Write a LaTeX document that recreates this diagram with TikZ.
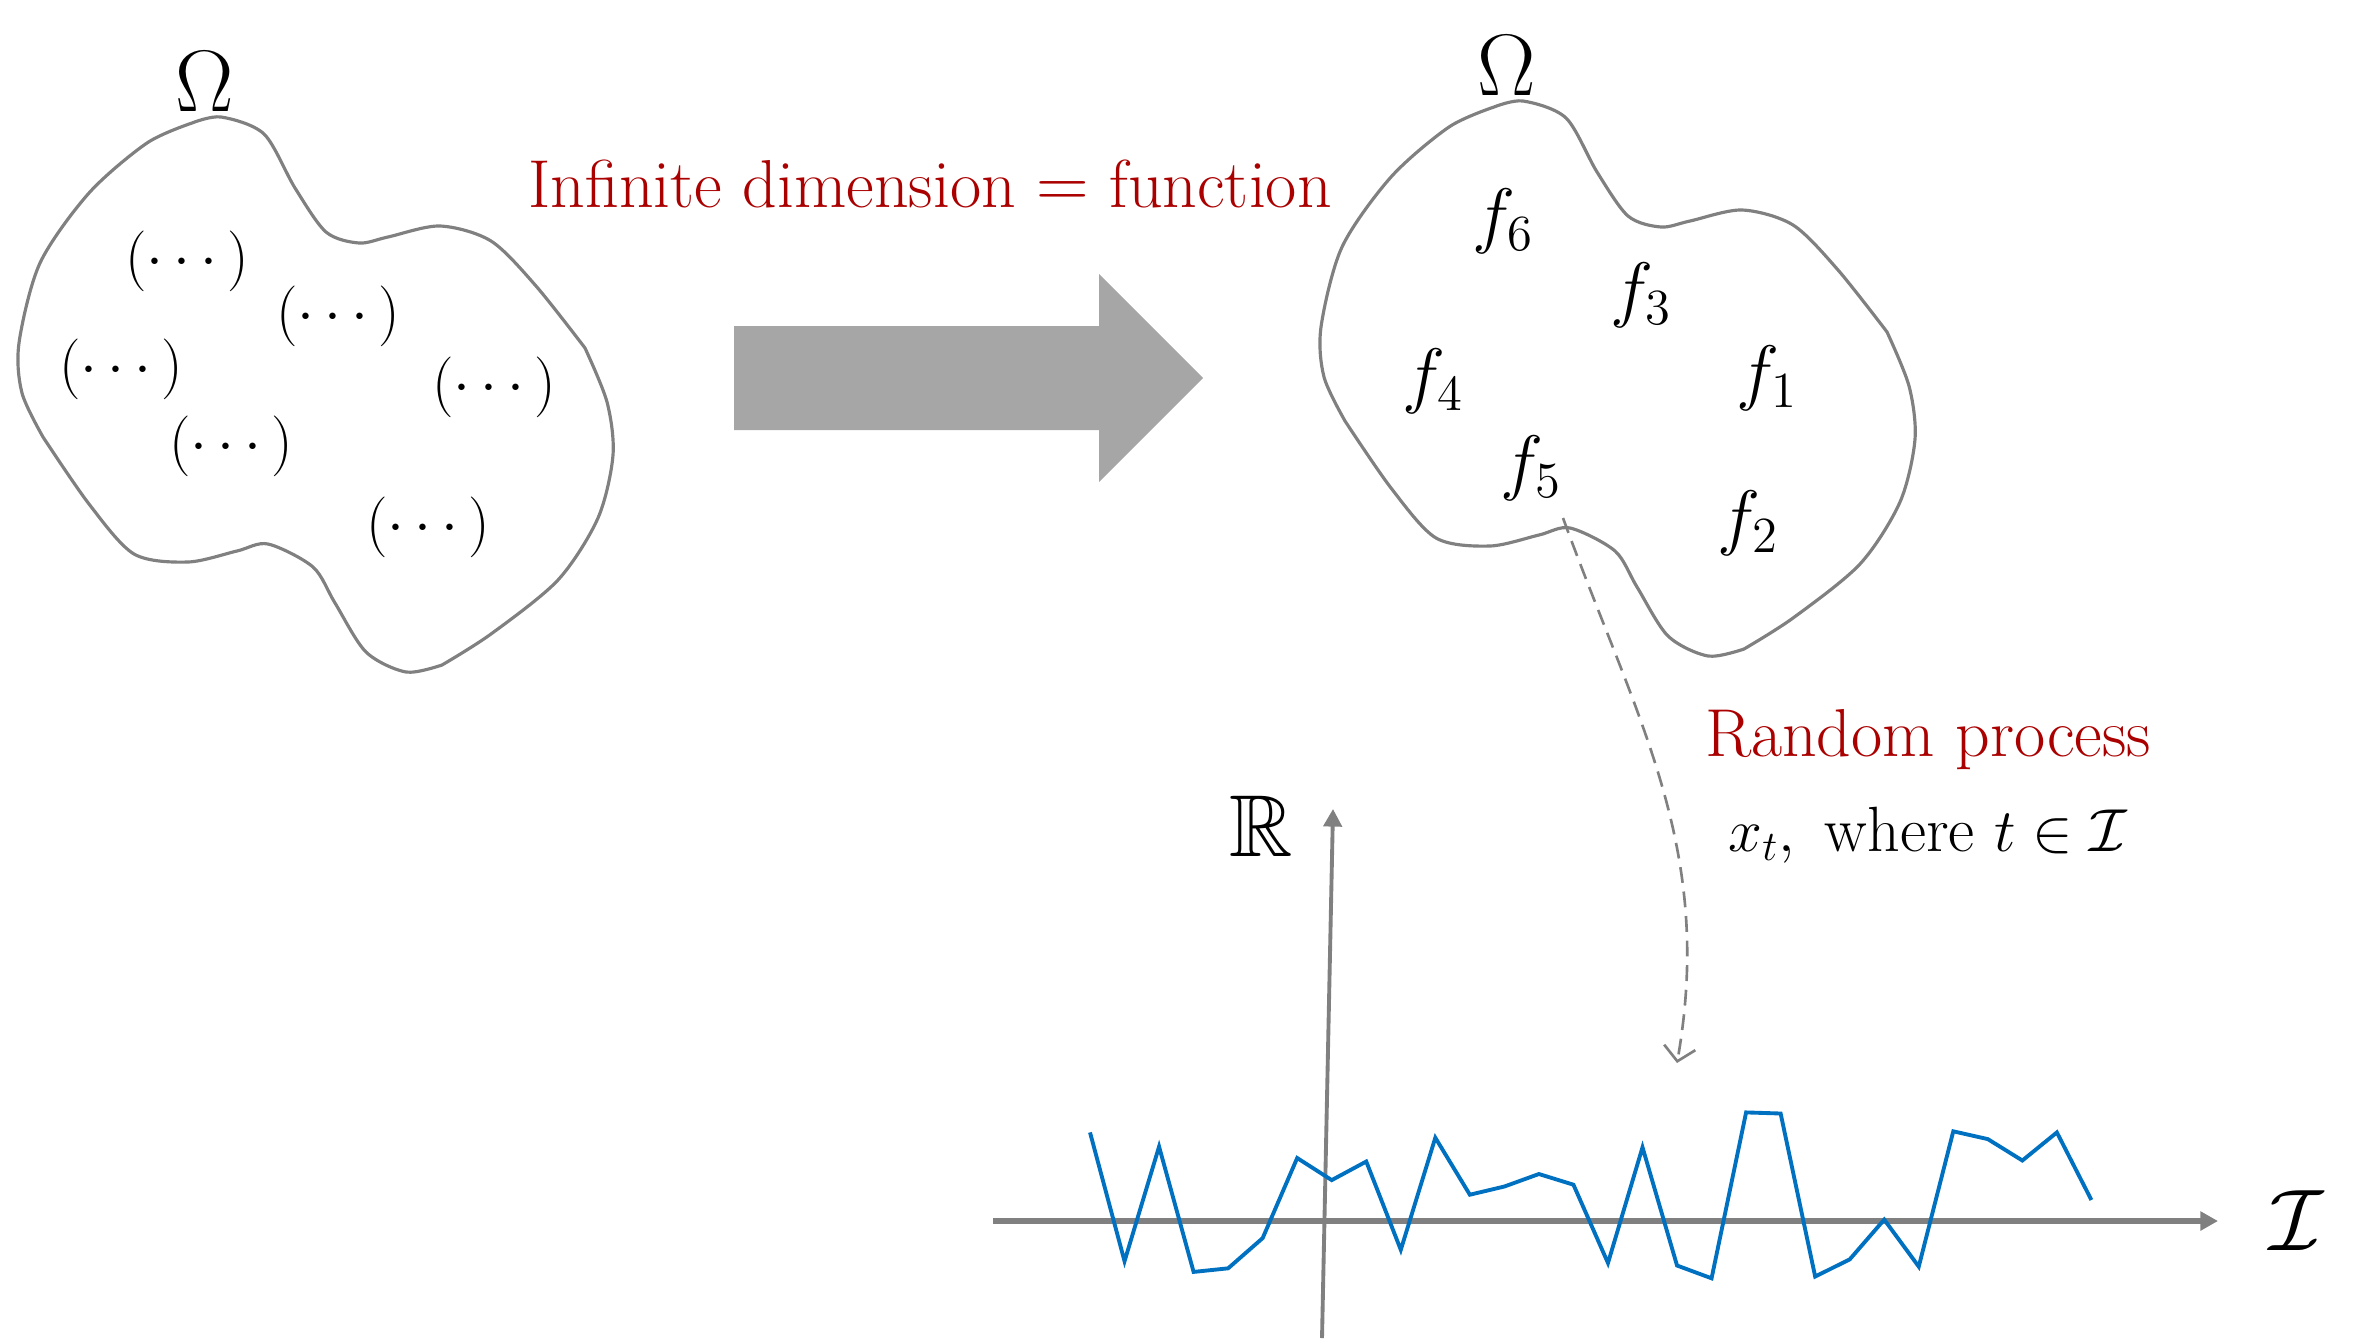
\documentclass[tikz,border=0pt]{standalone}
\usepackage{amsmath,amssymb}
\usepackage{xcolor}
\usepackage{tikz}
\usetikzlibrary{arrows.meta,calc,positioning}
\definecolor{setgray}{RGB}{128,128,128}
\definecolor{bigarrow}{RGB}{166,166,166}
\definecolor{accent}{RGB}{170,0,0}
\definecolor{sample}{RGB}{0,112,192}

\tikzset{
  blob/.pic={
    \draw[setgray,line width=0.9pt]
      plot[smooth] coordinates {(1.92,12.15) (2.21,12.21) (2.64,12.04) (2.95,11.50) (3.26,11.06) (3.59,10.95) (3.88,11.01) (4.40,11.12) (4.91,10.97) (5.36,10.52) (5.85,9.90)}
      -- plot[smooth] coordinates {(5.85,9.90) (6.07,9.36) (6.13,8.83) (5.98,8.20) (5.58,7.58) (4.91,7.04) (4.42,6.73)}
      -- plot[smooth] coordinates {(4.42,6.73) (4.06,6.66) (3.66,6.86) (3.35,7.35) (3.13,7.71) (2.68,7.94) (2.37,7.87) (1.88,7.76) (1.34,7.84) (0.89,8.34) (0.43,9.01)}
      -- plot[smooth] coordinates {(0.43,9.01) (0.22,9.45) (0.19,9.95) (0.40,10.75) (0.89,11.45) (1.47,11.95) (1.92,12.15)} -- cycle;
    \node[font=\fontsize{23}{28}\selectfont] (-omega) at (2.05,12.56) {$\Omega$};
  }
}

\begin{document}
\begin{tikzpicture}[
    txt/.style={font=\fontsize{19.3}{23}\selectfont},
    dots/.style={font=\fontsize{16.4}{20}\selectfont},
    fn/.style={font=\fontsize{19.5}{23}\selectfont},
    axlbl/.style={font=\fontsize{25}{30}\selectfont},
    axis/.style={setgray,-{Triangle[length=5pt,width=5.2pt]}}]
  \useasboundingbox (0,0) rectangle (23.62,13.38);

  % the two sets
  \pic (L) at (0,0) {blob};
  \pic (R) at (13.02,0.16) {blob};
  \foreach \x/\y [count=\i] in {1.87/10.77,3.38/10.22,1.21/9.69,4.94/9.51,2.31/8.92,4.28/8.11}
    \node[dots] (d\i) at (\x,\y) {$(\cdots)$};
  \foreach \k/\x/\y in {1/17.67/9.60,2/17.48/8.15,3/16.41/10.43,4/14.33/9.57,5/15.31/8.70,6/15.03/11.17}
    \node[fn] (f\k) at (\x,\y) {$f_{\k}$};

  % big arrow
  \fill[bigarrow] (7.34,9.08) -- (10.99,9.08) -- (10.99,8.56) -- (12.03,9.60)
    -- (10.99,10.64) -- (10.99,10.12) -- (7.34,10.12) -- cycle;
  \node[txt,accent] (idea) at (9.30,11.54) {Infinite dimension $=$ function};

  % random process
  \node[txt,accent] (rp) at (19.28,5.98) {Random process};
  \node[txt,font=\fontsize{18.2}{22}\selectfont] (xt) at (19.28,5.03) {$x_t,\ \text{where}\ t\in\mathcal{I}$};
  \coordinate (tail) at (15.63,8.20);
  \coordinate (head) at (16.77,2.75);
  \draw[setgray,line width=0.75pt,dash pattern=on 4.5pt off 2.5pt,-{Straight Barb[length=4pt,width=9pt]}]
    (tail) to[out=-70,in=80] (head);

  % axes
  \coordinate (xs) at (9.93,1.17);
  \coordinate (xe) at (22.18,1.17);
  \coordinate (ys) at (13.22,0);
  \coordinate (ye) at (13.33,5.29);
  \draw[axis,line width=1.5pt] (xs) -- (xe);
  \draw[axis,line width=1.1pt] (ys) -- (ye);
  \node[axlbl] (Rlbl) at (12.61,5.12) {$\mathbb{R}$};
  \node[axlbl] (Ilbl) at (22.96,1.17) {$\mathcal{I}$};

  % one sample path
  \draw[sample,line width=1.1pt] (10.90,2.056) foreach \v [count=\i] in
    {-0.402,0.744,-0.509,-0.473,-0.171,0.630,0.409,0.595,-0.288,0.833,0.263,0.345,0.470,0.363,
     -0.420,0.737,-0.445,-0.573,1.086,1.075,-0.555,-0.384,0.014,-0.456,0.897,0.819,0.605,0.886,0.210}
    { -- ({10.90+0.3453*\i},{1.17+\v}) };
\end{tikzpicture}
\end{document}
